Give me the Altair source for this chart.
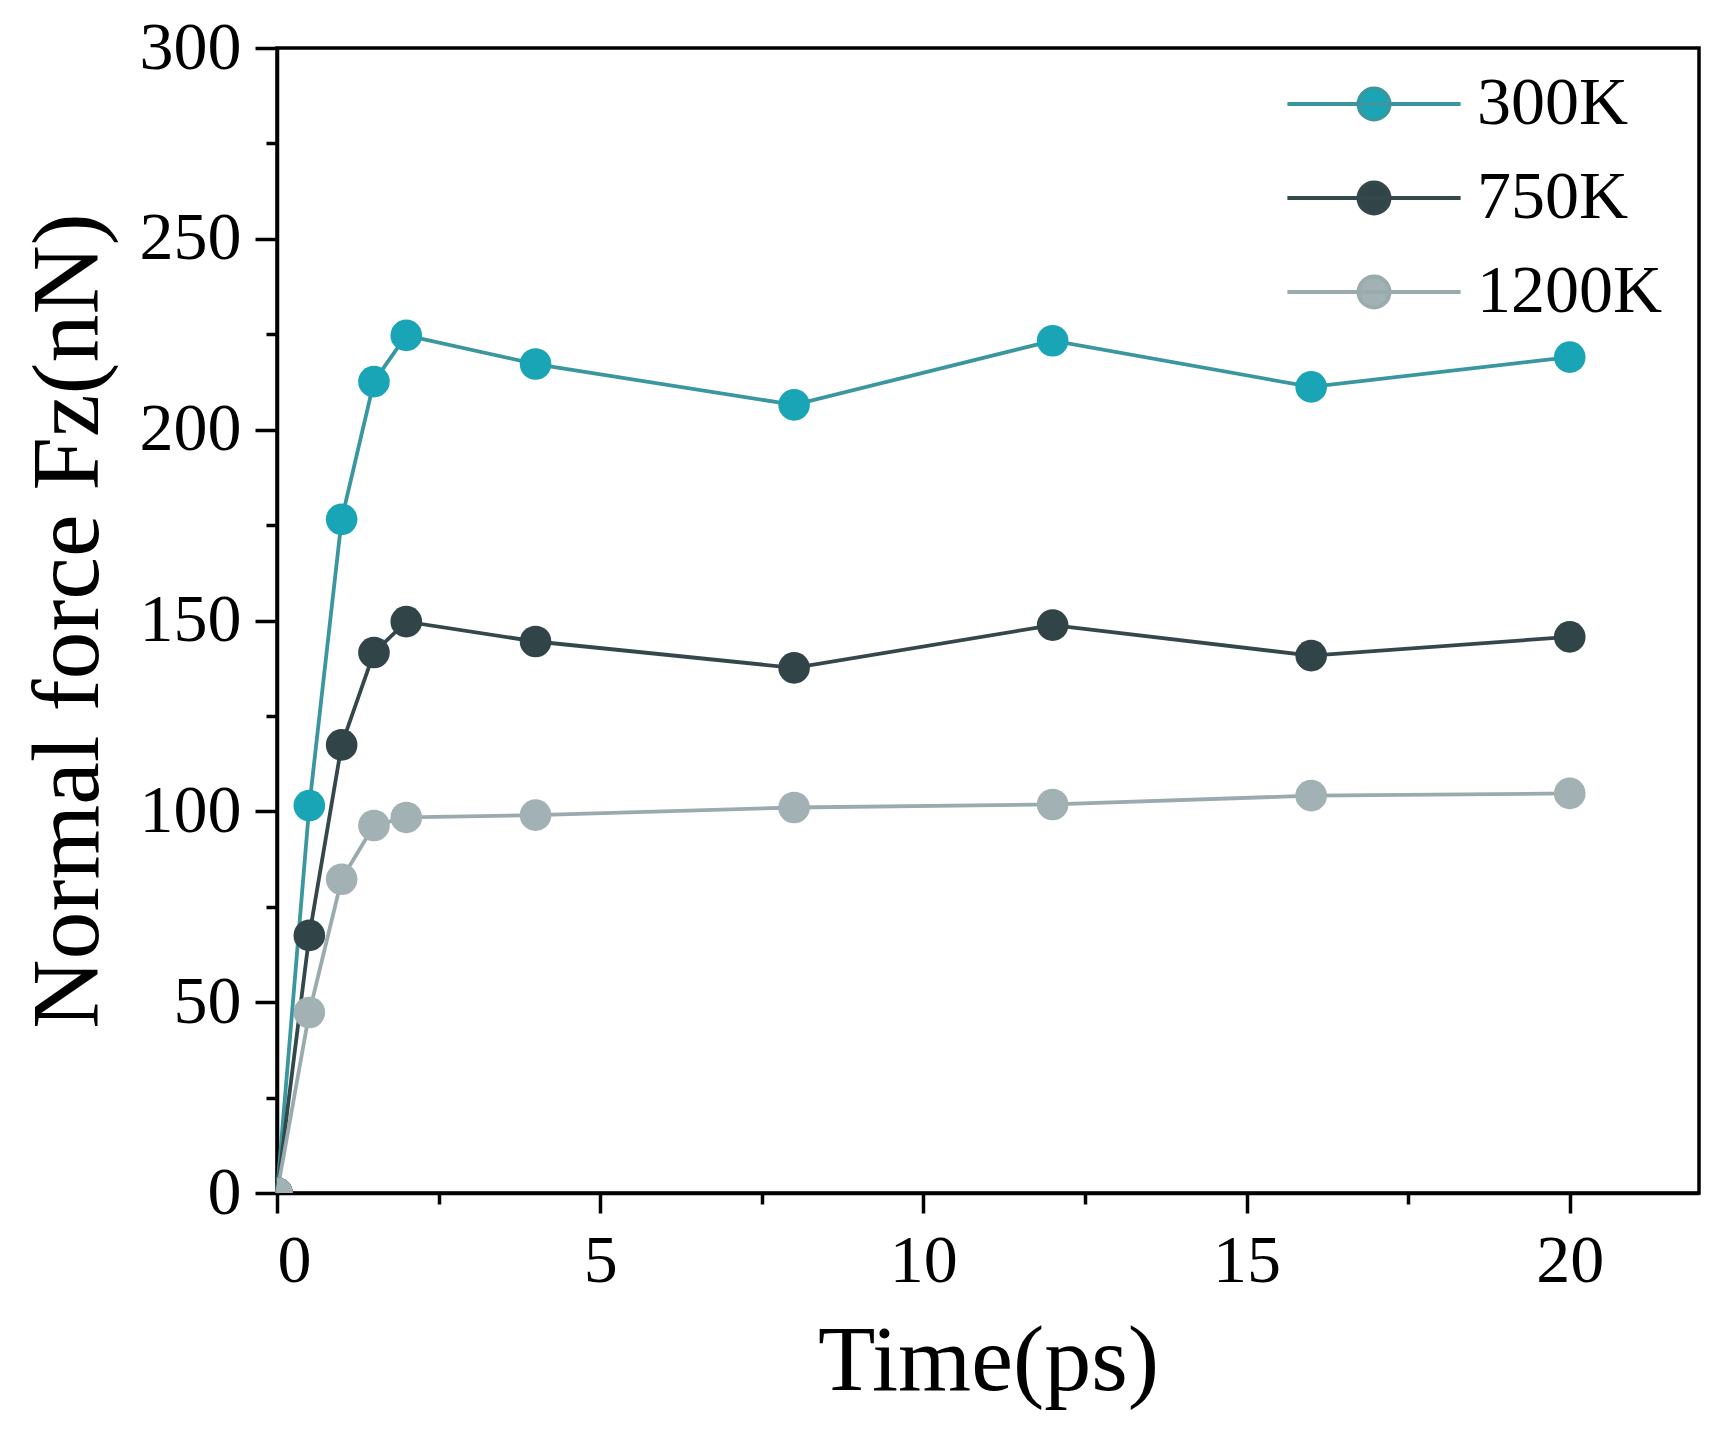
import altair as alt
import pandas as pd

# ---- data ----
times = [0, 0.5, 1, 1.5, 2, 4, 8, 12, 16, 20]
f300 = [0, 101.5, 176.5, 212.6, 224.7, 217.2, 206.5, 223.3, 211.2, 219.0]
f750 = [0, 67.5, 117.4, 141.6, 149.7, 144.5, 137.6, 148.8, 140.8, 145.7]
f1200 = [0, 47.3, 82.2, 96.3, 98.4, 99.0, 101.0, 101.8, 104.1, 104.7]
series = ["300K", "750K", "1200K"]
line_colors = ["#3a969f", "#34484c", "#9aabae"]
marker_colors = ["#1aa5b7", "#314548", "#a1b1b4"]

x_major = [0, 5, 10, 15, 20]
x_minor = [2.5, 7.5, 12.5, 17.5]
y_major = [0, 50, 100, 150, 200, 250, 300]
y_minor = [25, 75, 125, 175, 225, 275]

rows = []
for name, vals in zip(series, [f300, f750, f1200]):
    for t, v in zip(times, vals):
        rows.append({"t": t, "f": v, "T": name})
df = pd.DataFrame(rows)

FONT = "Liberation Serif"
xs = alt.Scale(domain=[0, 22], nice=False, zero=False)
ys = alt.Scale(domain=[0, 300], nice=False)

legend_path = ("M -1 0 L 1 0 M -0.18 0 A 0.18 0.18 0 1 1 0.18 0 "
               "A 0.18 0.18 0 1 1 -0.18 0 Z")


def make_legend():
    return alt.Legend(
        title=None, orient="none", legendX=1008, legendY=9,
        symbolType=legend_path, symbolSize=30000, symbolStrokeWidth=3.8,
        labelFont=FONT, labelFontSize=68, labelColor="black",
        labelOffset=14, rowPadding=0, clipHeight=94, labelLimit=400,
    )


major_x_axis = alt.Axis(values=x_major, title="Time(ps)", orient="bottom",
                        tickSize=20, labelPadding=14, titlePadding=20,
                        labelFontSize=68, titleFontSize=94, format="d")
major_y_axis = alt.Axis(values=y_major, title="Normal force Fz(nN)", orient="left",
                        tickSize=22, labelPadding=14, titlePadding=22,
                        labelFontSize=68, titleFontSize=96, format="d")
minor_x_axis = alt.Axis(values=x_minor, orient="bottom", labels=False, domain=False,
                        tickSize=11, title=None, grid=False)
minor_y_axis = alt.Axis(values=y_minor, orient="left", labels=False, domain=False,
                        tickSize=11, title=None, grid=False)

base = alt.Chart(df)

minor = base.mark_line(opacity=0).encode(
    x=alt.X("t:Q", scale=xs, axis=minor_x_axis),
    y=alt.Y("f:Q", scale=ys, axis=minor_y_axis),
)

lines = base.mark_line(strokeWidth=3.8).encode(
    x=alt.X("t:Q", scale=xs, axis=major_x_axis),
    y=alt.Y("f:Q", scale=ys, axis=major_y_axis),
    stroke=alt.Stroke("T:N", scale=alt.Scale(domain=series, range=line_colors),
                      legend=make_legend()),
)

points = base.mark_circle(size=1000, opacity=1, clip=True).encode(
    x=alt.X("t:Q", scale=xs, axis=None),
    y=alt.Y("f:Q", scale=ys, axis=None),
    fill=alt.Fill("T:N", scale=alt.Scale(domain=series, range=marker_colors),
                  legend=make_legend()),
)

chart = alt.layer(minor, lines, points).resolve_axis(
    x="independent", y="independent"
).properties(
    width=1422, height=1145,
    padding={"left": 12, "top": 6, "right": 10, "bottom": 10},
    background="white",
).configure_view(
    stroke="black", strokeWidth=3.5
).configure_axis(
    domainColor="black", domainWidth=3.5, tickColor="black", tickWidth=3.5,
    labelFont=FONT, titleFont=FONT, labelColor="black", titleColor="black",
    titleFontWeight="normal", grid=False,
)

chart.save("out.html", embed_options={"renderer": "svg", "actions": False})
